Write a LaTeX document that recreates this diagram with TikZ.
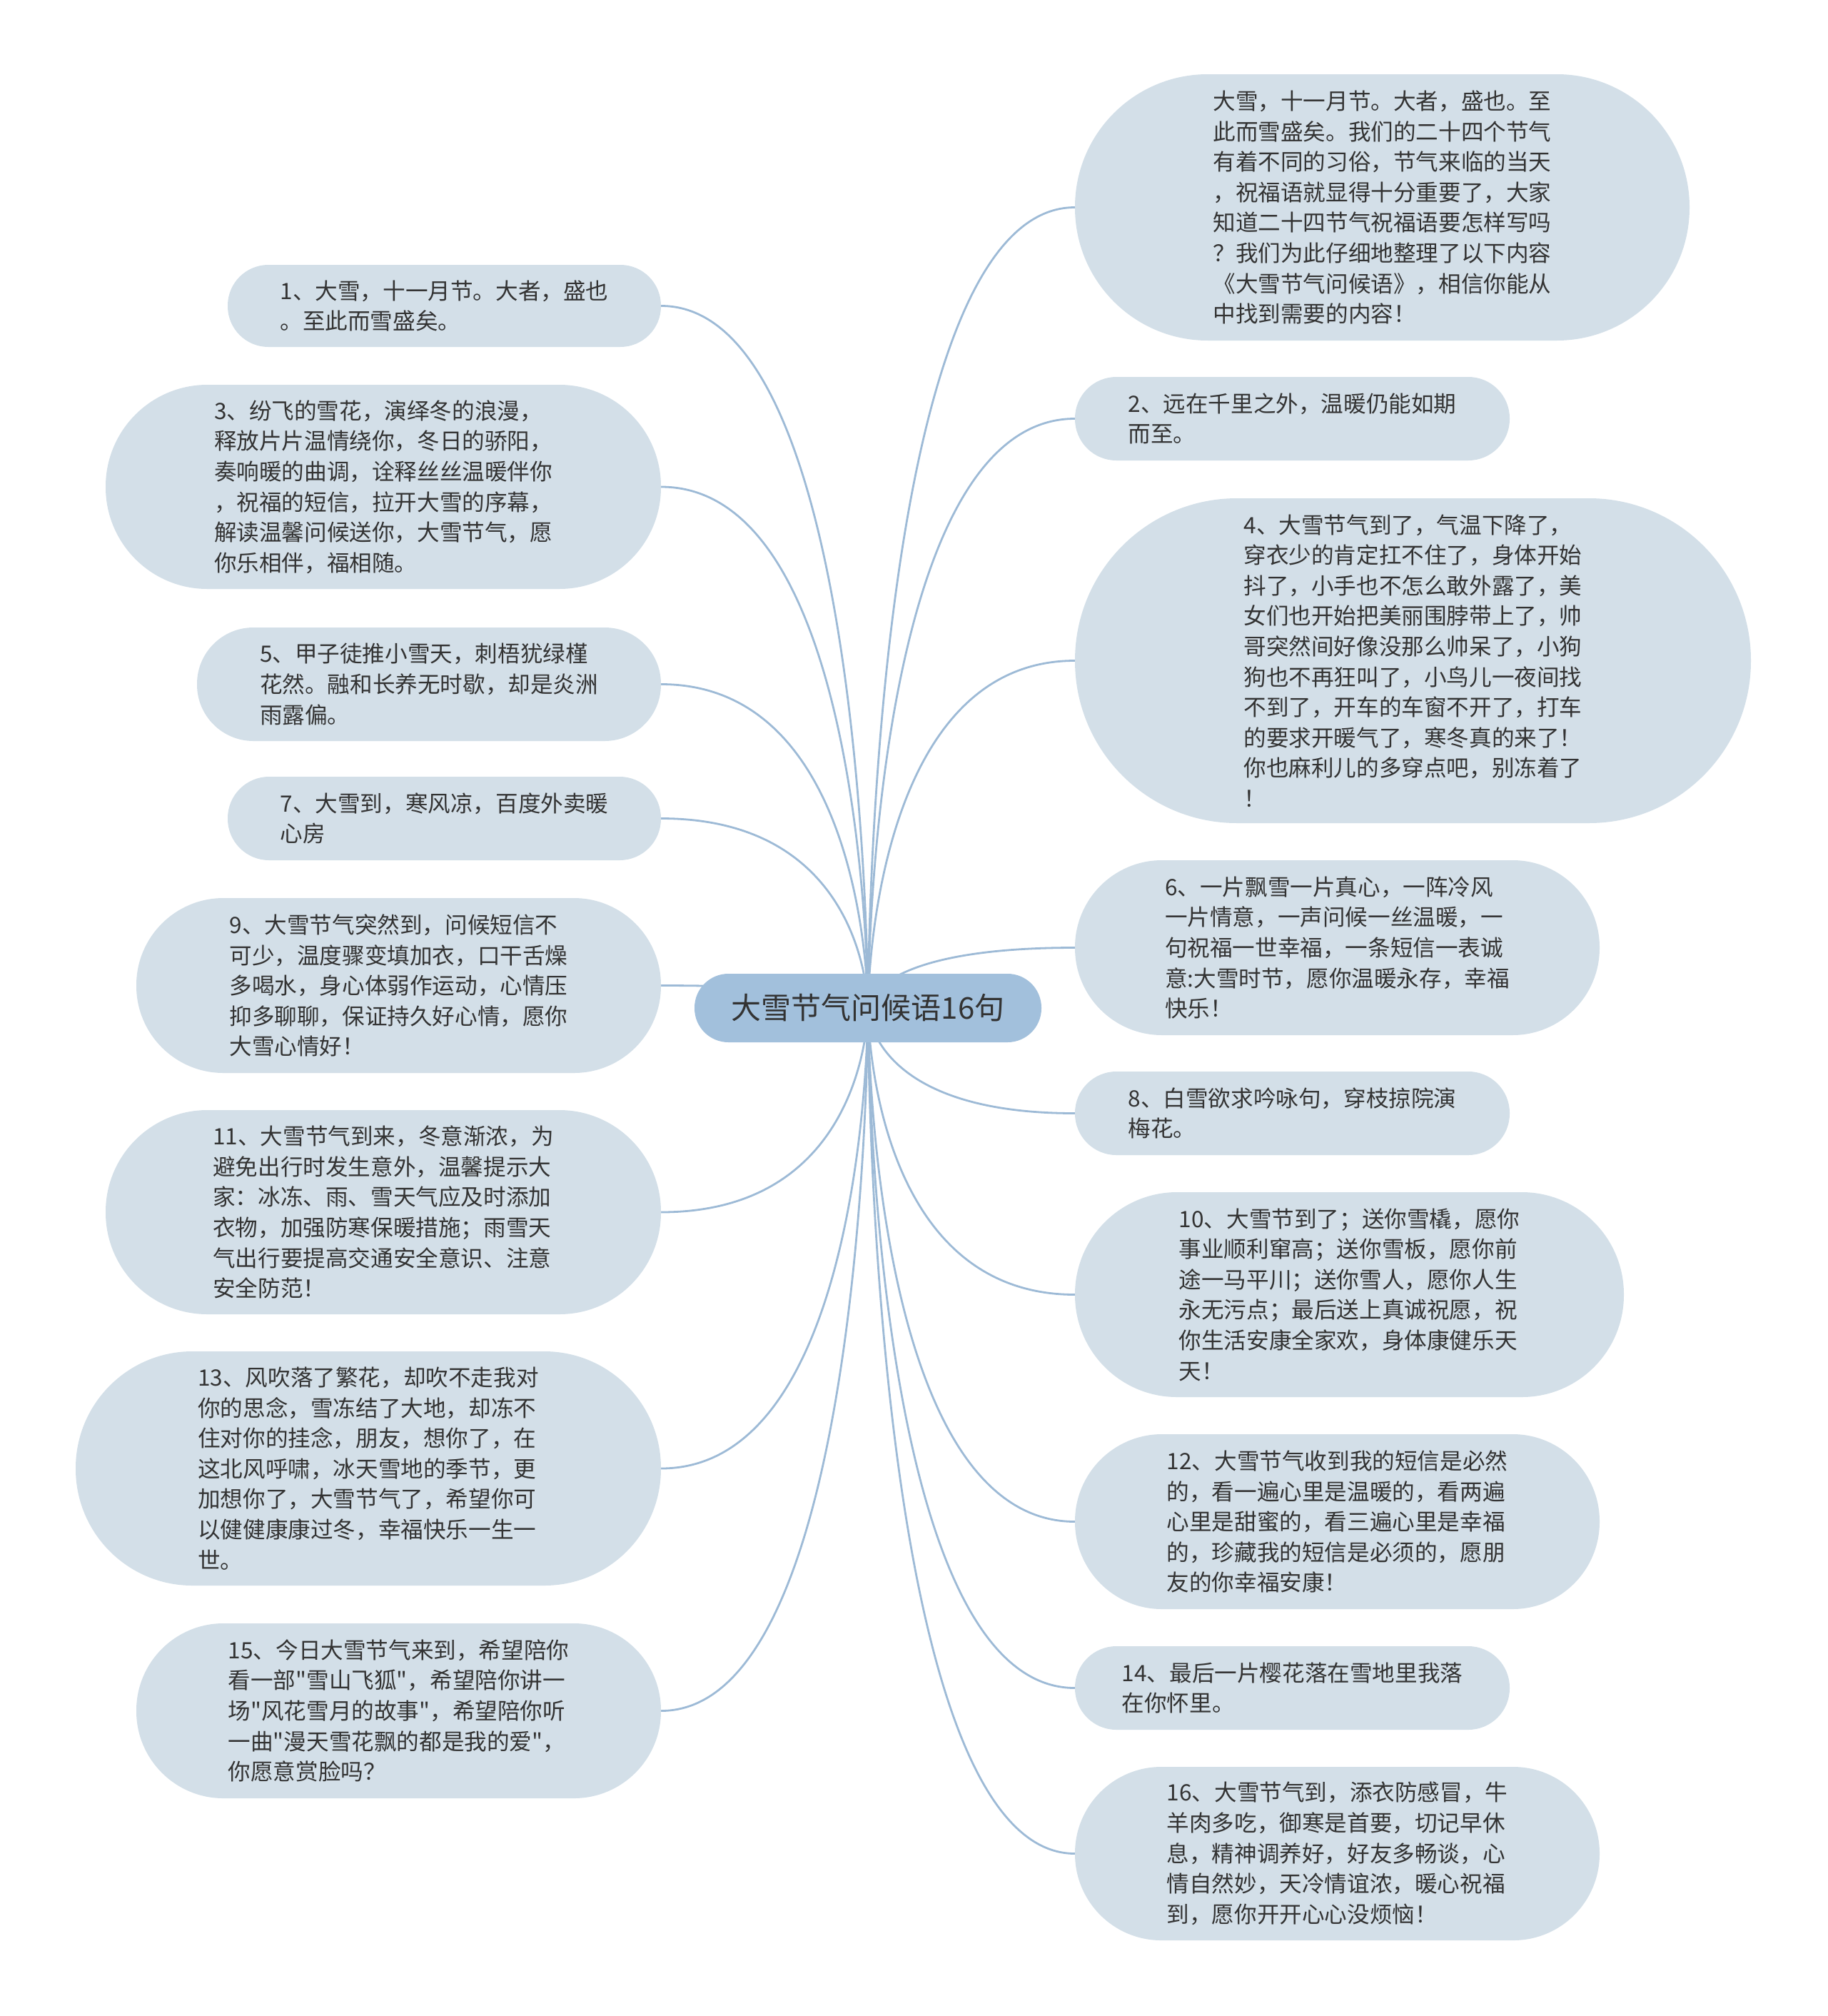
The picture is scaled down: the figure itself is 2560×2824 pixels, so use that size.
\documentclass[tikz,border=0pt]{standalone}
\usepackage{fontspec}
\newfontfamily\cjkfont{Noto Sans CJK SC}
\usetikzlibrary{backgrounds}
\definecolor{leaffill}{HTML}{D3DFE8}
\definecolor{rootfill}{HTML}{A2C0DC}
\definecolor{linkcol}{HTML}{9DBAD6}
\definecolor{txt}{HTML}{333333}
\begin{document}
\begin{tikzpicture}[x=1pt,y=1pt,
  leaf/.style={rectangle, fill=leaffill, text=txt, align=left, inner sep=0pt,
    font=\cjkfont\fontsize{31.6pt}{42.6pt}\selectfont},
  rootnode/.style={rectangle, fill=rootfill, text=txt, inner sep=0pt,
    minimum width=486pt, minimum height=96pt, rounded corners=47.5pt,
    font=\cjkfont\fontsize{42pt}{50pt}\selectfont},
  link/.style={draw=linkcol, line width=2.8pt}]
\useasboundingbox (0,0) rectangle (2560,-2824);

\node[rootnode] (c) at (1216,-1412) {大雪节气问候语16句};

% right side
\node[leaf, minimum width=861pt, minimum height=373pt, rounded corners=186pt] (r0) at (1936.5,-290.5)
{大雪，十一月节。大者，盛也。至\\此而雪盛矣。我们的二十四个节气\\有着不同的习俗，节气来临的当天\\，祝福语就显得十分重要了，大家\\知道二十四节气祝福语要怎样写吗\\？我们为此仔细地整理了以下内容\\《大雪节气问候语》，相信你能从\\中找到需要的内容！};

\node[leaf, minimum width=609pt, minimum height=117pt, rounded corners=58pt] (r2) at (1810.5,-586.5)
{2、远在千里之外，温暖仍能如期\\而至。};

\node[leaf, minimum width=947pt, minimum height=455pt, rounded corners=227pt] (r4) at (1979.5,-925.5)
{4、大雪节气到了，气温下降了，\\穿衣少的肯定扛不住了，身体开始\\抖了，小手也不怎么敢外露了，美\\女们也开始把美丽围脖带上了，帅\\哥突然间好像没那么帅呆了，小狗\\狗也不再狂叫了，小鸟儿一夜间找\\不到了，开车的车窗不开了，打车\\的要求开暖气了，寒冬真的来了！\\你也麻利儿的多穿点吧，别冻着了\\！};

\node[leaf, minimum width=735pt, minimum height=245pt, rounded corners=122pt] (r6) at (1873.5,-1327.5)
{6、一片飘雪一片真心，一阵冷风\\一片情意，一声问候一丝温暖，一\\句祝福一世幸福，一条短信一表诚\\意:大雪时节，愿你温暖永存，幸福\\快乐！};

\node[leaf, minimum width=609pt, minimum height=117pt, rounded corners=58pt] (r8) at (1810.5,-1559.5)
{8、白雪欲求吟咏句，穿枝掠院演\\梅花。};

\node[leaf, minimum width=769pt, minimum height=287pt, rounded corners=143pt] (r10) at (1890.5,-1813.5)
{10、大雪节到了；送你雪橇，愿你\\事业顺利窜高；送你雪板，愿你前\\途一马平川；送你雪人，愿你人生\\永无污点；最后送上真诚祝愿，祝\\你生活安康全家欢，身体康健乐天\\天！};

\node[leaf, minimum width=735pt, minimum height=245pt, rounded corners=122pt] (r12) at (1873.5,-2131.5)
{12、大雪节气收到我的短信是必然\\的，看一遍心里是温暖的，看两遍\\心里是甜蜜的，看三遍心里是幸福\\的，珍藏我的短信是必须的，愿朋\\友的你幸福安康！};

\node[leaf, minimum width=609pt, minimum height=117pt, rounded corners=58pt] (r14) at (1810.5,-2364.5)
{14、最后一片樱花落在雪地里我落\\在你怀里。};

\node[leaf, minimum width=735pt, minimum height=243pt, rounded corners=121pt] (r16) at (1873.5,-2596.5)
{16、大雪节气到，添衣防感冒，牛\\羊肉多吃，御寒是首要，切记早休\\息，精神调养好，好友多畅谈，心\\情自然妙，天冷情谊浓，暖心祝福\\到，愿你开开心心没烦恼！};

% left side
\node[leaf, minimum width=607pt, minimum height=115pt, rounded corners=57pt] (l1) at (622.5,-428.5)
{1、大雪，十一月节。大者，盛也\\。至此而雪盛矣。};

\node[leaf, minimum width=778pt, minimum height=286pt, rounded corners=142.5pt] (l3) at (537,-682)
{3、纷飞的雪花，演绎冬的浪漫，\\释放片片温情绕你，冬日的骄阳，\\奏响暖的曲调，诠释丝丝温暖伴你\\，祝福的短信，拉开大雪的序幕，\\解读温馨问候送你，大雪节气，愿\\你乐相伴，福相随。};

\node[leaf, minimum width=650pt, minimum height=159pt, rounded corners=79pt] (l5) at (601,-958.5)
{5、甲子徒推小雪天，刺梧犹绿槿\\花然。融和长养无时歇，却是炎洲\\雨露偏。};

\node[leaf, minimum width=607pt, minimum height=117pt, rounded corners=58pt] (l7) at (622.5,-1146.5)
{7、大雪到，寒风凉，百度外卖暖\\心房};

\node[leaf, minimum width=735pt, minimum height=245pt, rounded corners=122pt] (l9) at (558.5,-1380.5)
{9、大雪节气突然到，问候短信不\\可少，温度骤变填加衣，口干舌燥\\多喝水，身心体弱作运动，心情压\\抑多聊聊，保证持久好心情，愿你\\大雪心情好！};

\node[leaf, minimum width=778pt, minimum height=286pt, rounded corners=142.5pt] (l11) at (537,-1698)
{11、大雪节气到来，冬意渐浓，为\\避免出行时发生意外，温馨提示大\\家：冰冻、雨、雪天气应及时添加\\衣物，加强防寒保暖措施；雨雪天\\气出行要提高交通安全意识、注意\\安全防范！};

\node[leaf, minimum width=820pt, minimum height=328pt, rounded corners=163.5pt] (l13) at (516,-2057)
{13、风吹落了繁花，却吹不走我对\\你的思念，雪冻结了大地，却冻不\\住对你的挂念，朋友，想你了，在\\这北风呼啸，冰天雪地的季节，更\\加想你了，大雪节气了，希望你可\\以健健康康过冬，幸福快乐一生一\\世。};

\node[leaf, minimum width=735pt, minimum height=245pt, rounded corners=122pt] (l15) at (558.5,-2396.5)
{15、今日大雪节气来到，希望陪你\\看一部"雪山飞狐"，希望陪你讲一\\场"风花雪月的故事"，希望陪你听\\一曲"漫天雪花飘的都是我的爱"，\\你愿意赏脸吗？};

\begin{scope}[on background layer]
  \foreach \n in {r0,r2,r4,r6,r8,r10,r12,r14,r16}
    \draw[link] (c.center) .. controls (c.center) and (c.center |- \n.west) .. (\n.west);
  \foreach \n in {l1,l3,l5,l7,l9,l11,l13,l15}
    \draw[link] (c.center) .. controls (c.center) and (c.center |- \n.east) .. (\n.east);
\end{scope}
\end{tikzpicture}
\end{document}
